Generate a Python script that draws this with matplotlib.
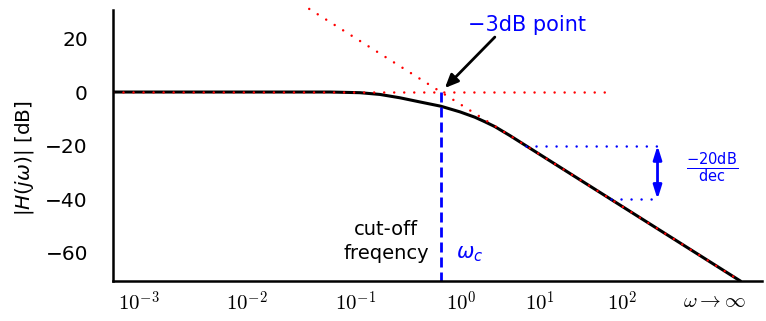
import numpy as np
import matplotlib.pyplot as plt

# ---- data ----
# x coordinate: decades relative to the cut-off frequency, u = log10(w / wc)
curve_u = [-3.86, -1.306, -0.953, -0.718, -0.482, -0.247, 0.0, 0.224, 0.40, 0.518, 0.635, 0.81, 3.52]
curve_db = [0.0, 0.0, -0.25, -0.9, -2.15, -3.7, -5.3, -7.4, -9.4, -11.1, -12.9, -16.2, -70.4]
yticks = [-60, -40, -20, 0, 20]
xtick_pos = [-3.56, -2.28, -1.0, 0.235, 1.16, 2.14, 3.22]
xtick_labels = [r'$10^{-3}$', r'$10^{-2}$', r'$10^{-1}$', r'$10^{0}$',
                r'$10^{1}$', r'$10^{2}$', r'$\omega \rightarrow \infty$']
flat_asym_u = [-3.86, 1.93]
slope_asym_u = [-1.55, 3.52]
slope_db_per_dec = -20
dec_marker_u = [1.0, 2.0, 2.55]  # start -20, start -40, end
dec_marker_db = [-20, -40]

fig = plt.figure(figsize=(7.66, 3.21), dpi=100)
ax = fig.add_axes([113 / 766, 40 / 321, (762 - 113) / 766, (281 - 10) / 321])
ax.set_xlim(-3.86, 3.78)
ax.set_ylim(-70.5, 30.6)

for s in ['top', 'right']:
    ax.spines[s].set_visible(False)
for s in ['left', 'bottom']:
    ax.spines[s].set_linewidth(1.8)
    ax.spines[s].set_zorder(5)

# asymptotes
ax.plot(flat_asym_u, [0, 0], color='red', lw=1.8, ls=(0, (0.01, 4)),
        dash_capstyle='round', zorder=3)
ax.plot(slope_asym_u, [slope_db_per_dec * v for v in slope_asym_u], color='red',
        lw=1.8, ls=(0, (0.01, 4)), dash_capstyle='round', zorder=3, clip_on=False)

# magnitude curve
ax.plot(curve_u, curve_db, color='black', lw=2.2, zorder=2, solid_joinstyle='round')

# cutoff dashed line
ax.plot([0, 0], [0, -70.5], color='blue', lw=2.0, ls=(0, (3.6, 1.8)), zorder=4)

# -20 dB/dec marker
ax.plot([dec_marker_u[0], dec_marker_u[2]], [dec_marker_db[0]] * 2, color='blue',
        lw=1.8, ls=(0, (0.01, 4)), dash_capstyle='round')
ax.plot([dec_marker_u[1], dec_marker_u[2]], [dec_marker_db[1]] * 2, color='blue',
        lw=1.8, ls=(0, (0.01, 4)), dash_capstyle='round')
ax.annotate('', xy=(dec_marker_u[2], dec_marker_db[1]), xytext=(dec_marker_u[2], dec_marker_db[0]),
            arrowprops=dict(arrowstyle='<|-|>,head_length=0.8,head_width=0.25',
                            color='blue', lw=2, shrinkA=0, shrinkB=0))
ax.text(3.19, -28.4, r'$\frac{-20\mathrm{dB}}{\mathrm{dec}}$', color='blue',
        fontsize=15, ha='center', va='center')

# -3 dB annotation
ax.annotate('', xy=(0.047, 1.5), xytext=(0.635, 20.5),
            arrowprops=dict(arrowstyle='-|>,head_length=0.8,head_width=0.35',
                            color='black', lw=2, shrinkA=0, shrinkB=0))
ax.text(1.01, 25.0, '\u22123dB point', color='blue', fontsize=15,
        ha='center', va='center')

ax.text(-0.647, -55.8, 'cut-off\nfreqency', color='black', fontsize=14,
        ha='center', va='center', linespacing=1.3)
ax.text(0.34, -60.4, r'$\omega_c$', color='blue', fontsize=15,
        ha='center', va='center')

# ticks
ax.set_yticks(yticks)
ax.tick_params(axis='y', length=0, pad=18, labelsize=14.5)
ax.set_xticks(xtick_pos, xtick_labels)
ax.tick_params(axis='x', length=0, pad=7, labelsize=15)
for tl in ax.get_xticklabels():
    tl.set_math_fontfamily('cm')

fig.text(25 / 766, 1 - 158 / 321, r'$|H(j\omega)|$ [dB]', rotation=90,
         ha='center', va='center', fontsize=14.5)

fig.savefig('out.png', dpi=100)
